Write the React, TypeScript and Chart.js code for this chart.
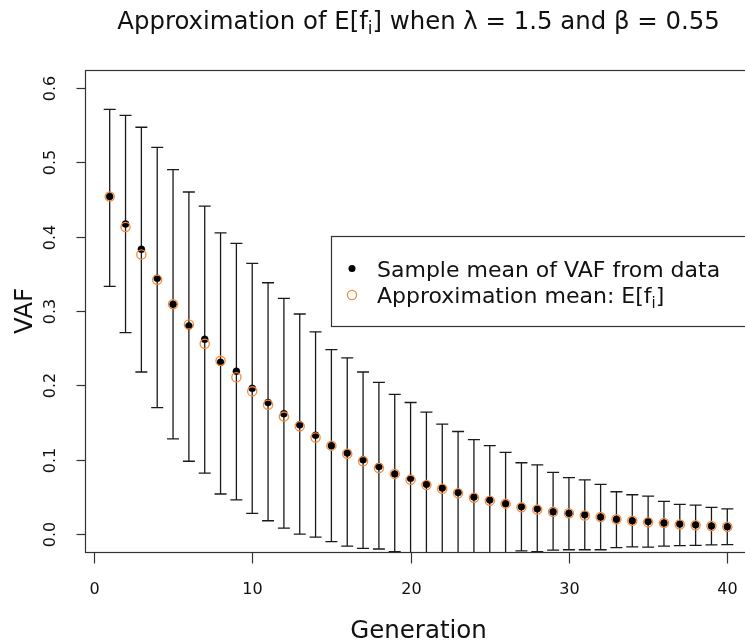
import React, { useEffect, useRef } from "react";
import { Chart, registerables } from "chart.js";

Chart.register(...registerables);

const generations = [
  1, 2, 3, 4, 5, 6, 7, 8, 9, 10, 11, 12, 13, 14, 15, 16, 17, 18, 19, 20,
  21, 22, 23, 24, 25, 26, 27, 28, 29, 30, 31, 32, 33, 34, 35, 36, 37, 38, 39, 40,
];

const sampleMean = [
  0.454, 0.417, 0.383, 0.344, 0.309, 0.28, 0.262, 0.231, 0.219, 0.196,
  0.177, 0.162, 0.147, 0.133, 0.119, 0.109, 0.1, 0.091, 0.081, 0.075,
  0.067, 0.062, 0.056, 0.05, 0.046, 0.041, 0.037, 0.034, 0.03, 0.028,
  0.026, 0.023, 0.02, 0.018, 0.017, 0.015, 0.0135, 0.0125, 0.011, 0.01,
];

const approxMean = [
  0.454, 0.413, 0.376, 0.342, 0.309, 0.282, 0.256, 0.233, 0.211, 0.192,
  0.174, 0.158, 0.145, 0.13, 0.119, 0.108, 0.098, 0.089, 0.081, 0.073,
  0.066, 0.061, 0.055, 0.049, 0.045, 0.041, 0.036, 0.033, 0.03, 0.028,
  0.025, 0.023, 0.02, 0.018, 0.016, 0.015, 0.013, 0.012, 0.011, 0.01,
];

const upperBound = [
  0.571, 0.563, 0.547, 0.52, 0.49, 0.46, 0.441, 0.405, 0.391, 0.364,
  0.338, 0.317, 0.296, 0.272, 0.248, 0.237, 0.218, 0.204, 0.188, 0.177,
  0.164, 0.148, 0.138, 0.127, 0.119, 0.11, 0.096, 0.093, 0.083, 0.076,
  0.073, 0.067, 0.057, 0.053, 0.051, 0.044, 0.04, 0.039, 0.036, 0.034,
];

const lowerBound = [
  0.333, 0.271, 0.218, 0.17, 0.128, 0.098, 0.082, 0.054, 0.046, 0.028,
  0.018, 0.008, 0.0, -0.004, -0.01, -0.016, -0.019, -0.02, -0.0235, -0.027,
  -0.029, -0.025, -0.027, -0.027, -0.028, -0.027, -0.0225, -0.0235, -0.0215, -0.021,
  -0.021, -0.021, -0.018, -0.017, -0.0175, -0.016, -0.0155, -0.015, -0.0145, -0.014,
];

const xTicks = [0, 10, 20, 30, 40];
const yTicks = [0, 0.1, 0.2, 0.3, 0.4, 0.5, 0.6];
const yTickLabels = ["0.0", "0.1", "0.2", "0.3", "0.4", "0.5", "0.6"];

const FONT = '"DejaVu Sans", "Liberation Sans", sans-serif';
const ORANGE = "#F58A3C";

const CANVAS_W = 780;
const CANVAS_H = 643;

function drawParts(
  ctx: CanvasRenderingContext2D,
  parts: { t: string; sub?: boolean }[],
  x: number,
  y: number,
  size: number,
  align: "left" | "center"
) {
  const subSize = Math.round(size * 0.7);
  let total = 0;
  const widths = parts.map((p) => {
    ctx.font = `${p.sub ? subSize : size}px ${FONT}`;
    const w = ctx.measureText(p.t).width;
    total += w;
    return w;
  });
  let cx = align === "center" ? x - total / 2 : x;
  ctx.textAlign = "left";
  ctx.textBaseline = "alphabetic";
  parts.forEach((p, i) => {
    ctx.font = `${p.sub ? subSize : size}px ${FONT}`;
    ctx.fillText(p.t, cx, p.sub ? y + size * 0.22 : y);
    cx += widths[i];
  });
}

const errorBarPlugin = {
  id: "errorBars",
  beforeDatasetsDraw(chart: any) {
    const { ctx, chartArea, scales } = chart;
    const x = scales.x;
    const y = scales.y;
    ctx.save();
    ctx.beginPath();
    ctx.rect(chartArea.left, chartArea.top, chartArea.right - chartArea.left, chartArea.bottom - chartArea.top);
    ctx.clip();
    ctx.strokeStyle = "#1a1a1a";
    ctx.lineWidth = 1.3;
    generations.forEach((g, i) => {
      const px = x.getPixelForValue(g);
      const pu = y.getPixelForValue(upperBound[i]);
      const pl = y.getPixelForValue(lowerBound[i]);
      ctx.beginPath();
      ctx.moveTo(px, pu);
      ctx.lineTo(px, pl);
      ctx.moveTo(px - 6, pu);
      ctx.lineTo(px + 6, pu);
      ctx.moveTo(px - 6, pl);
      ctx.lineTo(px + 6, pl);
      ctx.stroke();
    });
    ctx.restore();
  },
};

const decorPlugin = {
  id: "decor",
  afterDraw(chart: any) {
    const { ctx, chartArea, scales } = chart;
    const x = scales.x;
    const y = scales.y;
    const L = Math.round(chartArea.left) + 0.5;
    const T = Math.round(chartArea.top) + 0.5;
    const R = Math.round(chartArea.right) + 0.5;
    const B = Math.round(chartArea.bottom) + 0.5;
    ctx.save();
    ctx.strokeStyle = "#333";
    ctx.lineWidth = 1.2;
    ctx.strokeRect(L, T, R - L, B - T);

    ctx.fillStyle = "#111";
    // y ticks
    yTicks.forEach((v, i) => {
      const py = Math.round(y.getPixelForValue(v)) + 0.5;
      ctx.beginPath();
      ctx.moveTo(L - 9, py);
      ctx.lineTo(L, py);
      ctx.stroke();
      ctx.save();
      ctx.translate(55, py);
      ctx.rotate(-Math.PI / 2);
      ctx.font = `16px ${FONT}`;
      ctx.textAlign = "center";
      ctx.textBaseline = "alphabetic";
      ctx.fillText(yTickLabels[i], 0, 0);
      ctx.restore();
    });
    // x ticks
    xTicks.forEach((v) => {
      const px = Math.round(x.getPixelForValue(v)) + 0.5;
      ctx.beginPath();
      ctx.moveTo(px, B);
      ctx.lineTo(px, B + 11);
      ctx.stroke();
      ctx.font = `16px ${FONT}`;
      ctx.textAlign = "center";
      ctx.textBaseline = "alphabetic";
      ctx.fillText(String(v), px, 593.5);
    });

    const cx = (chartArea.left + chartArea.right) / 2;
    const cy = (chartArea.top + chartArea.bottom) / 2;

    // axis labels
    ctx.font = `24.5px ${FONT}`;
    ctx.textAlign = "center";
    ctx.fillText("Generation", cx, 637.5);
    ctx.save();
    ctx.translate(31.5, cy);
    ctx.rotate(-Math.PI / 2);
    ctx.font = `24.5px ${FONT}`;
    ctx.textAlign = "center";
    ctx.fillText("VAF", 0, 0);
    ctx.restore();

    // title
    drawParts(
      ctx,
      [
        { t: "Approximation of E[f" },
        { t: "i", sub: true },
        { t: "] when \u03BB = 1.5 and \u03B2 = 0.55" },
      ],
      cx,
      28.5,
      24.4,
      "center"
    );

    // legend
    const lx = 331.5;
    const ly = 236.5;
    const lw = chartArea.right + 2 - lx;
    const lh = 90;
    ctx.fillStyle = "#fff";
    ctx.fillRect(lx, ly, lw, lh);
    ctx.strokeStyle = "#333";
    ctx.strokeRect(lx, ly, lw, lh);

    ctx.fillStyle = "#000";
    ctx.beginPath();
    ctx.arc(352, 268.5, 3.5, 0, Math.PI * 2);
    ctx.fill();
    ctx.strokeStyle = ORANGE;
    ctx.lineWidth = 1.3;
    ctx.beginPath();
    ctx.arc(352, 295, 4.6, 0, Math.PI * 2);
    ctx.stroke();

    ctx.fillStyle = "#111";
    drawParts(ctx, [{ t: "Sample mean of VAF from data" }], 377, 276.5, 22, "left");
    drawParts(
      ctx,
      [{ t: "Approximation mean: E[f" }, { t: "i", sub: true }, { t: "]" }],
      377,
      303,
      22,
      "left"
    );
    ctx.restore();
  },
};

export default function App() {
  const canvasRef = useRef<HTMLCanvasElement | null>(null);

  useEffect(() => {
    const canvas = canvasRef.current;
    if (!canvas) return;
    const chart = new Chart(canvas, {
      type: "scatter",
      data: {
        datasets: [
          {
            label: "Sample mean of VAF from data",
            data: generations.map((g, i) => ({ x: g, y: sampleMean[i] })),
            backgroundColor: "#000",
            borderColor: "#000",
            pointRadius: 3.5,
            pointBorderWidth: 0.5,
            order: 2,
          },
          {
            label: "Approximation mean: E[f_i]",
            data: generations.map((g, i) => ({ x: g, y: approxMean[i] })),
            backgroundColor: "rgba(0,0,0,0)",
            borderColor: ORANGE,
            pointRadius: 4.6,
            pointBorderWidth: 1.3,
            order: 1,
          },
        ],
      },
      options: {
        responsive: false,
        animation: false,
        devicePixelRatio: 1,
        layout: {
          padding: { left: 85, top: 70, right: CANVAS_W - 752, bottom: CANVAS_H - 552 },
        },
        scales: {
          x: { type: "linear", min: -0.56, max: 41.56, display: false },
          y: { type: "linear", min: -0.024, max: 0.624, display: false },
        },
        plugins: {
          legend: { display: false },
          title: { display: false },
          tooltip: { enabled: false },
        },
      },
      plugins: [errorBarPlugin, decorPlugin],
    });
    return () => chart.destroy();
  }, []);

  return (
    <div
      style={{
        position: "fixed",
        left: 0,
        top: 0,
        width: 745,
        height: 643,
        overflow: "hidden",
        background: "#fff",
      }}
    >
      <canvas ref={canvasRef} width={CANVAS_W} height={CANVAS_H} style={{ display: "block" }} />
    </div>
  );
}
